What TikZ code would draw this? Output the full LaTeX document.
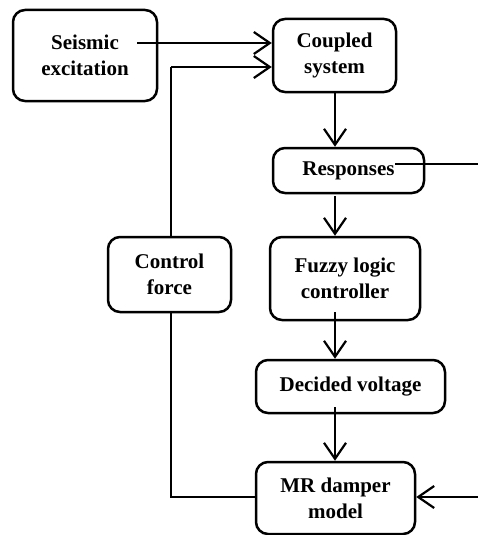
\documentclass[tikz,border=0pt]{standalone}
\usepackage{fontspec}
\setmainfont{Liberation Serif}
\usetikzlibrary{arrows.meta,calc}
\begin{document}
\begin{tikzpicture}[x=1pt,y=-1pt,
  blk/.style={draw,line width=2.5pt,rounded corners=12pt,align=center,inner sep=0pt,
    font=\fontsize{21}{26}\selectfont\bfseries},
  arr/.style={line width=2.2pt,-{Straight Barb[length=16pt,width=22pt,line width=2.2pt]}},
  ln/.style={line width=2.2pt}]
\useasboundingbox (0,0) rectangle (478,535);
\node[blk,minimum width=144pt,minimum height=91pt] (seis) at (85,55.5) {Seismic\\excitation};
\node[blk,minimum width=123pt,minimum height=73pt] (coup) at (334.5,55.5) {Coupled\\system};
\node[blk,minimum width=151pt,minimum height=45pt] (resp) at (348.5,170.5) {Responses};
\node[blk,minimum width=150pt,minimum height=83pt] (fuzz) at (345,278.5) {Fuzzy logic\\controller};
\node[blk,minimum width=123pt,minimum height=75pt] (ctrl) at (169.5,274.5) {Control\\force};
\node[blk,minimum width=189pt,minimum height=53pt] (dec) at (350.5,386.5) {Decided voltage};
\node[blk,minimum width=159pt,minimum height=72pt] (mr) at (335.5,498) {MR damper\\model};
% connectors
\coordinate (s1) at (137,43);
\draw[arr] (s1) -- (s1 -| coup.west);
\coordinate (c1) at (171,67);
\draw[arr] (c1) -- (c1 -| coup.west);
\draw[ln] (c1) -- (c1 |- ctrl.north);
\draw[ln] (c1 |- ctrl.south) -- (171,497) -- (mr.west |- 0,497);
\coordinate (cb) at (335,92);
\draw[arr] (cb) -- (cb |- resp.north);
\coordinate (rb) at (335,196);
\draw[arr] (rb) -- (rb |- fuzz.north);
\coordinate (fb) at (335,312);
\draw[arr] (fb) -- (fb |- dec.north);
\coordinate (db) at (335,407);
\draw[arr] (db) -- (db |- mr.north);
\coordinate (r1) at (395,164);
\coordinate (r2) at (478,164);
\draw[ln] (r1) -- (r2);
\coordinate (m1) at (478,497);
\draw[arr] (m1) -- (mr.east |- m1);
\end{tikzpicture}
\end{document}
